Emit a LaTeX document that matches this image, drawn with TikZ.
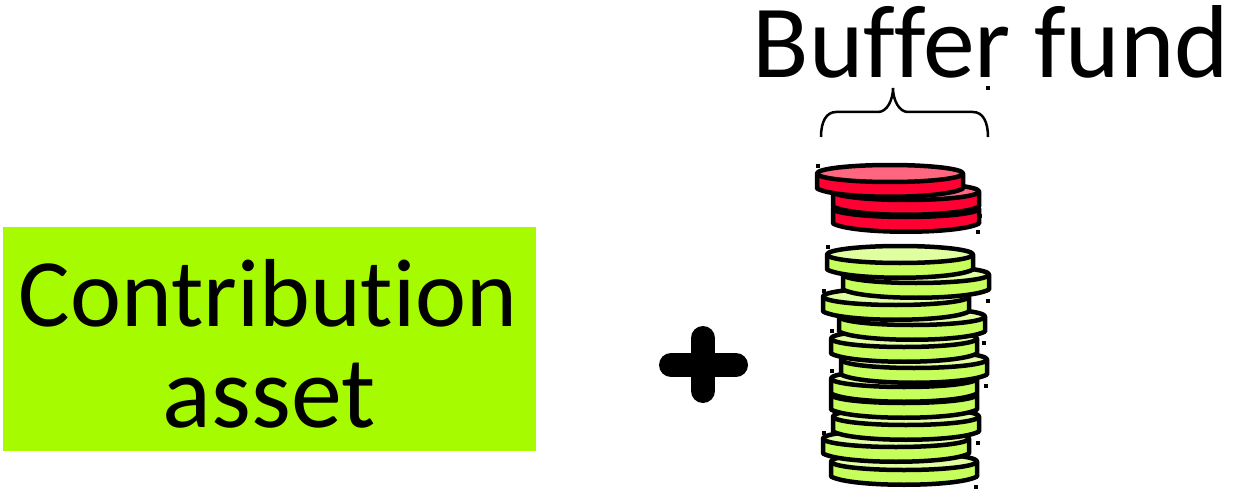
\documentclass[tikz,border=0pt]{standalone}
\usepackage{fontspec}
\setmainfont[Ligatures=NoCommon]{Carlito}
\tikzset{
  labeltext/.style={inner sep=0pt,text=black,font=\fontsize{58}{70}\selectfont},
  coinline/.style={line width=.9mm,line join=round}
}
\definecolor{assetgreen}{HTML}{A6FB00}
\definecolor{coingreenbody}{HTML}{C6FF5C}
\definecolor{coingreentop}{HTML}{DFFFA0}
\definecolor{coinredbody}{HTML}{FF0033}
\definecolor{coinredtop}{HTML}{FF6680}
\newcommand{\coin}[4]{%
  \begin{scope}[shift={(#1,#2)}]
    \filldraw[coinline,fill=#3] (0,-23.5) -- (0,-8.5) .. controls (20,2.5) and (126,2.5) .. (146,-8.5) -- (146,-23.5) -- cycle;
    \filldraw[coinline,fill=#4] (73,-23.5) ellipse [x radius=73,y radius=8.5];
  \end{scope}}
\begin{document}
\begin{tikzpicture}[x=.2mm,y=-.2mm]
\useasboundingbox (0,0) rectangle (1234,490);
\fill[assetgreen] (3,227) rectangle (536,451);
\node[labeltext,font=\fontsize{55}{70}\selectfont] (contribution) at (268,293) {Contribution};
\node[labeltext] (asset) at (269,396) {asset};
\node[labeltext,font=\fontsize{59}{70}\selectfont] (buffer) at (991,42) {Buffer fund};
\draw[line width=4.8mm,line cap=round] (671,365) -- (736,365);
\draw[line width=4.8mm,line cap=round] (703,338) -- (703,391);
\draw[line width=.5mm] (821,137) .. controls (821,122) and (826,112) .. (836,112) -- (878,112) .. controls (887,112) and (893,100) .. (893,88) .. controls (893,100) and (899,112) .. (908,112) -- (973,112) .. controls (983,112) and (988,122) .. (988,137);
\foreach \l/\b in {831/485,823/462,833/440,831/418,831/402,841/383,831/362,839/340,823/320,843/298,827/278}
  \coin{\l}{\b}{coingreenbody}{coingreentop};
\foreach \l/\b in {833/232,833/215,817/197}
  \coin{\l}{\b}{coinredbody}{coinredtop};
\foreach \x/\y in {818/166,978/232,980/216,828/247,988/88,824/291,988/301,832/331,984/343,832/371,986/386,824/433,978/443,976/487}
  \fill (\x-2,\y-2) rectangle (\x+2,\y+2);
\end{tikzpicture}
\end{document}
